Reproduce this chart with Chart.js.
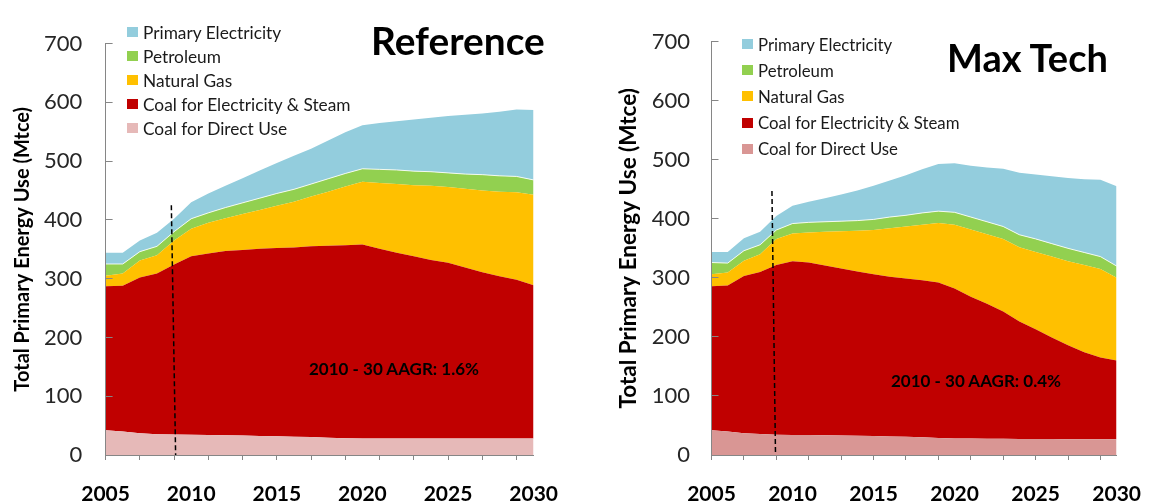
<!DOCTYPE html>
<html>
<head>
<meta charset="utf-8">
<script src="https://cdn.jsdelivr.net/npm/chart.js@4"></script>
<style>
  body { margin: 0; background: #fff; font-family: Lato, sans-serif; }
  #wrap { position: relative; width: 1163px; height: 504px; overflow: hidden; }
  canvas { position: absolute; top: 0; }
  .legend { position: absolute; color: #1a1a1a; }
  .legend div { display: flex; align-items: center; white-space: nowrap; }
  .legend .box { display: inline-block; width: 11px; height: 10px; margin-right: 5px; }
  #legendRef { left: 127px; top: 20px; font-size: 17.3px; }
  #legendRef div { height: 24px; }
  #legendMax { left: 742px; top: 31px; font-size: 16.8px; }
  #legendMax div { height: 26.2px; }
  .title { position: absolute; font-weight: bold; color: #000; white-space: nowrap; line-height: 1; }
  .note { position: absolute; font-weight: bold; font-size: 17px; color: #000; white-space: nowrap; line-height: 1; }
</style>
</head>
<body>
<div id="wrap">
  <canvas id="refChart" width="580" height="504" style="left:0"></canvas>
  <canvas id="maxChart" width="583" height="504" style="left:580px"></canvas>
  <div class="legend" id="legendRef"></div>
  <div class="legend" id="legendMax"></div>
  <div class="title" style="left:371px; top:21px; font-size:38.8px;">Reference</div>
  <div class="title" style="left:947px; top:38px; font-size:38px;">Max Tech</div>
  <div class="note" style="left:309px; top:360px;">2010 - 30 AAGR: 1.6%</div>
  <div class="note" style="left:891px; top:372px;">2010 - 30 AAGR: 0.4%</div>
</div>
<script>
const years = ['2005', '2006', '2007', '2008', '2009', '2010', '2011', '2012', '2013', '2014', '2015', '2016', '2017',
               '2018', '2019', '2020', '2021', '2022', '2023', '2024', '2025', '2026', '2027', '2028', '2029', '2030'];

const seriesNames = ['Coal for Direct Use', 'Coal for Electricity & Steam', 'Natural Gas', 'Petroleum', 'Primary Electricity'];

// Reference scenario (Mtce)
const refDirect = [42, 40, 37, 35.5, 35, 34.5, 34, 33.5, 33, 32.5, 32, 31, 30.5, 29.5, 28.5, 28, 28, 28, 28, 28, 28, 28, 28, 28, 28, 28];
const refCoalElec = [245, 248, 265, 273.5, 289, 303.5, 309, 313.5, 316, 318.5, 320, 322, 324.5, 326.5, 328.5, 330, 323, 316, 310, 304, 299, 291, 283, 276, 270, 261];
const refGas = [18, 21, 29, 31, 41, 47, 52, 56, 61, 66, 72, 78, 85, 92, 100, 107, 112, 117, 121, 126, 129, 134, 139, 144, 149, 154];
const refPetroleum = [20, 16, 15, 15, 15, 17, 17, 18, 19, 20, 21, 21, 21, 22, 22, 22, 23, 24, 24, 24, 24, 25, 27, 27, 27, 25];
const refPrimary = [19, 19, 19, 23, 22, 28, 33, 37, 42, 47, 52, 57, 60, 65, 70, 74, 79, 83, 88, 92, 97, 101, 104, 109, 114, 119];

// Max Tech scenario (Mtce)
const maxDirect = [42, 40, 37, 35.5, 34.5, 34, 34, 33.5, 33, 32.5, 32, 31.5, 31, 30, 29, 28, 28, 27.5, 27.5, 27, 27, 27, 26.5, 26.5, 26.5, 26.5];
const maxCoalElec = [244, 247, 266, 274.5, 287.5, 294, 292, 287.5, 283, 278.5, 274, 270.5, 268, 266, 263, 254, 240, 228.5, 215.5, 199, 186, 172, 159.5, 147.5, 138.5, 133.5];
const maxGas = [20, 22, 26, 30, 44, 47, 51, 57, 63, 69, 75, 82, 88, 94, 101, 108, 114, 118, 123, 126, 131, 137, 142, 148, 150, 140];
const maxPetroleum = [20, 16, 17, 16, 15, 17, 17, 17, 17, 17, 18, 19, 19, 20, 20, 21, 21, 21, 21, 21, 22, 22, 22, 21, 21, 20];
const maxPrimary = [18, 19, 21, 22, 24, 30, 35, 40, 45, 51, 57, 62, 68, 74, 80, 83, 87, 92, 98, 105, 109, 114, 119, 124, 130, 135];

// dashed divider near 2009: [year, value] top and bottom
const refDivider = [[2008.84, 425], [2009.09, 0]];
const maxDivider = [[2008.73, 447], [2008.95, 0]];

Chart.defaults.font.family = 'Lato, sans-serif';

function dividerPlugin(pts) {
    return {
        id: 'divider',
        afterDatasetsDraw(chart) {
            const {ctx, scales: {x, y}} = chart;
            ctx.save();
            ctx.strokeStyle = '#000';
            ctx.lineWidth = 1.5;
            ctx.setLineDash([5, 3]);
            ctx.beginPath();
            ctx.moveTo(x.getPixelForValue(pts[0][0] - 2005), y.getPixelForValue(pts[0][1]));
            ctx.lineTo(x.getPixelForValue(pts[1][0] - 2005), y.getPixelForValue(pts[1][1]));
            ctx.stroke();
            ctx.restore();
        }
    };
}

function buildChart(id, values, colors, geo) {
    const datasets = values.map(function(v, i) {
        return {
            label: seriesNames[i],
            data: v,
            backgroundColor: colors[i],
            borderColor: i === 3 ? 'rgba(255,255,255,0.85)' : colors[i],
            borderWidth: i === 3 ? 1 : 0,
            fill: i === 0 ? 'origin' : '-1',
            pointRadius: 0,
            tension: 0
        };
    });
    return new Chart(document.getElementById(id), {
        type: 'line',
        data: { labels: years, datasets: datasets },
        options: {
            responsive: false,
            animation: false,
            devicePixelRatio: 1,
            layout: { padding: { left: 0, right: geo.padRight, top: geo.padTop, bottom: 0 } },
            plugins: {
                legend: { display: false },
                tooltip: { enabled: false }
            },
            scales: {
                x: {
                    type: 'category',
                    offset: false,
                    grid: {
                        drawOnChartArea: false,
                        tickLength: 5,
                        tickColor: function(ctx) {
                            return ctx.index % 2 === 0 && ctx.index < 25 ? '#868686' : 'rgba(0,0,0,0)';
                        }
                    },
                    border: { color: '#868686', z: 1 },
                    ticks: {
                        autoSkip: false,
                        maxRotation: 0,
                        minRotation: 0,
                        padding: 22,
                        color: '#000',
                        font: { size: 21, weight: 'bold' },
                        callback: function(value, index) {
                            return index % 5 === 0 ? years[index] : '';
                        }
                    },
                    afterFit: function(scale) { scale.height = 49; }
                },
                y: {
                    stacked: true,
                    min: 0,
                    max: 700,
                    ticks: { stepSize: 100, padding: geo.tickPad, color: '#262626', font: { size: 22 } },
                    grid: { drawOnChartArea: false, tickLength: -7, color: '#868686', z: 1 },
                    border: { color: '#868686', z: 1 },
                    title: {
                        display: true,
                        text: 'Total Primary Energy Use (Mtce)',
                        color: '#000',
                        font: { size: geo.titleSize, weight: 'bold' },
                        padding: { top: geo.titlePad, bottom: 0 }
                    },
                    afterFit: function(scale) { scale.width = geo.axisLeft; }
                }
            }
        },
        plugins: [dividerPlugin(geo.divider)]
    });
}

function buildLegend(chart, elId) {
    const holder = document.getElementById(elId);
    chart.options.plugins.legend.labels.generateLabels(chart).reverse().forEach(function(item) {
        const row = document.createElement('div');
        const sw = document.createElement('span');
        sw.className = 'box';
        sw.style.background = item.fillStyle;
        row.appendChild(sw);
        row.appendChild(document.createTextNode(item.text));
        holder.appendChild(row);
    });
}

const refChart = buildChart('refChart',
    [refDirect, refCoalElec, refGas, refPetroleum, refPrimary],
    ['#E6B9B8', '#C00000', '#FFC000', '#92D050', '#93CDDD'],
    { padRight: 31, padTop: 22.7, axisLeft: 105.6, tickPad: 30.4, titleSize: 20, titlePad: 11, divider: refDivider });

const maxChart = buildChart('maxChart',
    [maxDirect, maxCoalElec, maxGas, maxPetroleum, maxPrimary],
    ['#D99694', '#C00000', '#FFC000', '#92D050', '#93CDDD'],
    { padRight: 30, padTop: 38.3, axisLeft: 131.5, tickPad: 28.5, titleSize: 22.5, titlePad: 35.5, divider: maxDivider });

buildLegend(refChart, 'legendRef');
buildLegend(maxChart, 'legendMax');
</script>
</body>
</html>
